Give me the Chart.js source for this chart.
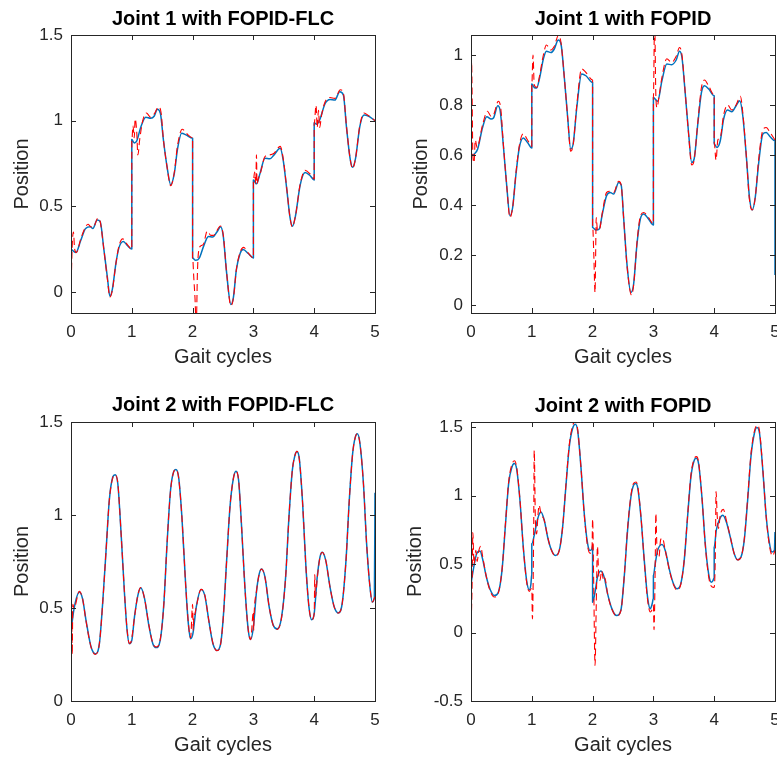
<!DOCTYPE html>
<html>
<head>
<meta charset="utf-8">
<script src="https://cdn.jsdelivr.net/npm/chart.js@4.4.1/dist/chart.umd.min.js"></script>
<style>
  html, body { margin: 0; padding: 0; background: #fff; }
  #page { position: relative; width: 777px; height: 757px; overflow: hidden; }
  canvas { position: absolute; }
</style>
</head>
<body>
<div id="page">
  <canvas id="j1flc" width="390" height="380" style="left:0;top:0"></canvas>
  <canvas id="j1pid" width="387" height="380" style="left:390px;top:0"></canvas>
  <canvas id="j2flc" width="390" height="377" style="left:0;top:380px"></canvas>
  <canvas id="j2pid" width="387" height="377" style="left:390px;top:380px"></canvas>
</div>
<script>
// ---- tick labels ----
const xTicks = [0, 1, 2, 3, 4, 5];
const j1flcTicks = [0, 0.5, 1, 1.5];
const j1pidTicks = [0, 0.2, 0.4, 0.6, 0.8, 1];
const j2flcTicks = [0, 0.5, 1, 1.5];
const j2pidTicks = [-0.5, 0, 0.5, 1, 1.5];

// ---- Joint 1 with FOPID-FLC ----
const j1flcActX = [
  0, 0.08, 0.16, 0.24, 0.32, 0.36, 0.43, 0.48, 0.54, 0.60, 0.64, 0.68, 0.74, 0.79, 0.86, 0.93, 1.0,
  1.0, 1.04, 1.08, 1.15, 1.23, 1.31, 1.37, 1.42, 1.47, 1.52, 1.58, 1.64, 1.70, 1.75, 1.82, 1.89, 2.0,
  2.0, 2.05, 2.11, 2.18, 2.26, 2.33, 2.40, 2.46, 2.505, 2.56, 2.63, 2.67, 2.72, 2.78, 2.83, 2.92, 3.0,
  3.0, 3.05, 3.11, 3.19, 3.27, 3.34, 3.44, 3.49, 3.55, 3.60, 3.64, 3.69, 3.77, 3.85, 3.93, 4.0,
  4.0, 4.04, 4.09, 4.18, 4.26, 4.34, 4.42, 4.48, 4.53, 4.59, 4.63, 4.68, 4.75, 4.82, 4.89, 5.0
];
const j1flcAct = [
  0.25, 0.23, 0.30, 0.37, 0.38, 0.37, 0.42, 0.41, 0.25, 0.08, -0.025, 0.015, 0.17, 0.26, 0.295, 0.27, 0.25,
  0.89, 0.87, 0.88, 0.965, 1.02, 1.014, 1.027, 1.066, 1.043, 0.887, 0.73, 0.625, 0.693, 0.83, 0.926, 0.917, 0.897,
  0.198, 0.185, 0.198, 0.266, 0.324, 0.32, 0.35, 0.38, 0.324, 0.11, -0.074, -0.035, 0.13, 0.223, 0.247, 0.223, 0.198,
  0.654, 0.631, 0.693, 0.78, 0.777, 0.80, 0.839, 0.77, 0.596, 0.44, 0.383, 0.44, 0.625, 0.697, 0.68, 0.654,
  0.988, 0.979, 1.004, 1.10, 1.124, 1.12, 1.169, 1.15, 0.965, 0.78, 0.728, 0.78, 0.965, 1.033, 1.027, 1.0
];
const j1flcRefX = [
  0, 0.02, 0.04, 0.06, 0.09, 0.16, 0.24, 0.28, 0.33, 0.37, 0.44, 0.48, 0.54, 0.60, 0.64, 0.68, 0.74, 0.79, 0.85, 0.93, 1.0,
  1.0, 1.02, 1.04, 1.055, 1.08, 1.10, 1.13, 1.18, 1.24, 1.31, 1.37, 1.44, 1.48, 1.52, 1.58, 1.64, 1.70, 1.75, 1.83, 1.90, 2.0,
  2.0, 2.02, 2.04, 2.06, 2.08, 2.10, 2.14, 2.18, 2.24, 2.30, 2.34, 2.46, 2.505, 2.56, 2.63, 2.67, 2.72, 2.78, 2.84, 2.92, 3.0,
  3.0, 3.02, 3.04, 3.05, 3.06, 3.08, 3.12, 3.19, 3.27, 3.34, 3.44, 3.49, 3.55, 3.60, 3.64, 3.69, 3.77, 3.85, 3.93, 4.0,
  4.0, 4.03, 4.05, 4.07, 4.09, 4.12, 4.18, 4.26, 4.34, 4.43, 4.48, 4.53, 4.59, 4.63, 4.68, 4.75, 4.82, 4.89, 5.0
];
const j1flcRef = [
  0.0, 0.27, 0.35, 0.25, 0.23, 0.31, 0.38, 0.395, 0.38, 0.38, 0.43, 0.41, 0.25, 0.07, -0.03, 0.01, 0.17, 0.27, 0.31, 0.275, 0.25,
  0.88, 0.97, 0.9, 1.01, 0.94, 0.8, 0.89, 1.0, 1.045, 1.02, 1.04, 1.08, 1.05, 0.89, 0.73, 0.62, 0.70, 0.85, 0.95, 0.925, 0.9,
  0.2, 0.08, -0.04, -0.2, 0.12, 0.24, 0.27, 0.28, 0.355, 0.33, 0.33, 0.385, 0.33, 0.11, -0.08, -0.04, 0.13, 0.23, 0.26, 0.225, 0.2,
  0.65, 0.70, 0.63, 0.8, 0.63, 0.66, 0.70, 0.79, 0.80, 0.81, 0.85, 0.78, 0.60, 0.44, 0.38, 0.44, 0.63, 0.71, 0.69, 0.66,
  0.98, 1.09, 0.96, 1.06, 0.96, 1.03, 1.11, 1.135, 1.13, 1.18, 1.16, 0.97, 0.78, 0.72, 0.78, 0.97, 1.045, 1.03, 1.0
];

// ---- Joint 1 with FOPID ----
const j1pidActX = [
  0, 0.055, 0.11, 0.19, 0.26, 0.33, 0.37, 0.44, 0.48, 0.53, 0.59, 0.64, 0.685, 0.74, 0.795, 0.86, 0.93, 1.0,
  1.0, 1.04, 1.08, 1.13, 1.19, 1.24, 1.315, 1.37, 1.435, 1.48, 1.535, 1.59, 1.64, 1.68, 1.74, 1.82, 1.89, 2.0,
  2.0, 2.055, 2.11, 2.16, 2.23, 2.29, 2.345, 2.43, 2.47, 2.51, 2.565, 2.63, 2.675, 2.73, 2.785, 2.84, 2.92, 3.0,
  3.0, 3.03, 3.07, 3.14, 3.22, 3.30, 3.375, 3.43, 3.47, 3.52, 3.58, 3.63, 3.67, 3.73, 3.79, 3.84, 3.91, 4.0,
  4.0, 4.045, 4.10, 4.155, 4.22, 4.29, 4.36, 4.42, 4.47, 4.53, 4.58, 4.625, 4.675, 4.73, 4.80, 4.855, 4.92, 5.0, 5.0
];
const j1pidAct = [
  0.60, 0.604, 0.624, 0.71, 0.753, 0.744, 0.748, 0.797, 0.777, 0.644, 0.47, 0.357, 0.39, 0.524, 0.63, 0.668, 0.65, 0.628,
  0.884, 0.87, 0.868, 0.91, 0.984, 1.015, 1.01, 1.024, 1.06, 1.044, 0.91, 0.75, 0.624, 0.644, 0.79, 0.924, 0.917, 0.89,
  0.31, 0.30, 0.304, 0.364, 0.437, 0.45, 0.444, 0.49, 0.48, 0.35, 0.164, 0.05, 0.084, 0.244, 0.344, 0.364, 0.344, 0.32,
  0.83, 0.824, 0.815, 0.897, 0.964, 0.961, 0.98, 1.015, 0.99, 0.857, 0.684, 0.57, 0.584, 0.724, 0.85, 0.877, 0.864, 0.837,
  0.644, 0.63, 0.657, 0.744, 0.78, 0.773, 0.797, 0.817, 0.757, 0.59, 0.43, 0.38, 0.43, 0.564, 0.684, 0.69, 0.673, 0.657, 0.12
];
const j1pidRefX = [
  0, 0.01, 0.02, 0.03, 0.05, 0.07, 0.10, 0.19, 0.27, 0.33, 0.37, 0.45, 0.49, 0.53, 0.59, 0.64, 0.685, 0.74, 0.80, 0.86, 0.93, 1.0,
  1.0, 1.02, 1.04, 1.08, 1.13, 1.19, 1.24, 1.315, 1.37, 1.44, 1.48, 1.535, 1.59, 1.64, 1.68, 1.74, 1.82, 1.89, 2.0,
  2.0, 2.02, 2.04, 2.06, 2.08, 2.11, 2.16, 2.23, 2.29, 2.345, 2.43, 2.47, 2.51, 2.565, 2.64, 2.675, 2.73, 2.785, 2.84, 2.92, 3.0,
  3.0, 3.02, 3.04, 3.06, 3.09, 3.14, 3.22, 3.30, 3.375, 3.43, 3.47, 3.52, 3.58, 3.63, 3.67, 3.73, 3.79, 3.84, 3.91, 4.0,
  4.0, 4.03, 4.06, 4.10, 4.155, 4.22, 4.29, 4.36, 4.43, 4.47, 4.53, 4.58, 4.625, 4.675, 4.73, 4.80, 4.855, 4.92, 5.0
];
const j1pidRef = [
  -0.03, 0.97, 0.80, 0.60, 0.57, 0.66, 0.63, 0.72, 0.775, 0.755, 0.76, 0.815, 0.785, 0.65, 0.47, 0.35, 0.39, 0.53, 0.645, 0.685, 0.66, 0.635,
  0.88, 1.0, 0.88, 0.87, 0.92, 1.0, 1.04, 1.02, 1.035, 1.08, 1.05, 0.91, 0.75, 0.615, 0.64, 0.80, 0.945, 0.93, 0.9,
  0.32, 0.2, 0.05, 0.35, 0.30, 0.30, 0.37, 0.45, 0.455, 0.45, 0.495, 0.48, 0.35, 0.16, 0.04, 0.08, 0.25, 0.355, 0.37, 0.35, 0.325,
  0.83, 1.15, 0.84, 0.79, 0.83, 0.91, 0.985, 0.97, 0.995, 1.03, 1.0, 0.86, 0.68, 0.56, 0.58, 0.73, 0.87, 0.9, 0.875, 0.84,
  0.65, 0.58, 0.66, 0.67, 0.76, 0.8, 0.78, 0.8, 0.835, 0.77, 0.59, 0.42, 0.38, 0.43, 0.58, 0.70, 0.71, 0.69, 0.66
];

// ---- Joint 2 with FOPID-FLC ----
const j2flcActX = [
  0, 0.055, 0.137, 0.19, 0.247, 0.33, 0.40, 0.467, 0.52, 0.577, 0.63, 0.687, 0.725, 0.77, 0.824, 0.88, 0.923, 0.96, 1.0,
  1.044, 1.10, 1.148, 1.21, 1.28, 1.346, 1.40, 1.467, 1.527, 1.58, 1.637, 1.687, 1.725, 1.77, 1.824, 1.885, 1.93, 1.967, 2.005,
  2.06, 2.14, 2.20, 2.27, 2.335, 2.40, 2.46, 2.505, 2.56, 2.615, 2.67, 2.713, 2.757, 2.806, 2.86, 2.916, 2.954, 3.0,
  3.053, 3.097, 3.135, 3.19, 3.26, 3.327, 3.393, 3.464, 3.53, 3.585, 3.64, 3.683, 3.716, 3.755, 3.81, 3.864, 3.914, 3.958, 4.0,
  4.05, 4.095, 4.133, 4.19, 4.26, 4.33, 4.396, 4.46, 4.523, 4.577, 4.632, 4.676, 4.71, 4.753, 4.81, 4.862, 4.917, 4.956, 4.99, 5.0
];
const j2flcAct = [
  0.38, 0.505, 0.586, 0.55, 0.434, 0.29, 0.254, 0.308, 0.523, 0.81, 1.079, 1.204, 1.217, 1.168, 0.90, 0.577, 0.38, 0.308, 0.326,
  0.452, 0.568, 0.609, 0.55, 0.407, 0.308, 0.287, 0.326, 0.523, 0.846, 1.133, 1.231, 1.244, 1.204, 0.99, 0.63, 0.416, 0.335, 0.362,
  0.505, 0.60, 0.568, 0.425, 0.308, 0.272, 0.305, 0.452, 0.756, 1.043, 1.195, 1.235, 1.186, 0.935, 0.613, 0.38, 0.33, 0.398,
  0.595, 0.685, 0.71, 0.667, 0.505, 0.407, 0.387, 0.452, 0.667, 0.99, 1.24, 1.32, 1.342, 1.303, 1.061, 0.72, 0.505, 0.437, 0.47,
  0.667, 0.774, 0.80, 0.756, 0.613, 0.505, 0.473, 0.523, 0.756, 1.079, 1.33, 1.419, 1.437, 1.383, 1.168, 0.846, 0.613, 0.532, 0.559, 1.12
];
const j2flcRefX = [
  0, 0.005, 0.01, 0.02, 0.03, 0.05, 0.137, 0.19, 0.247, 0.33, 0.40, 0.467, 0.52, 0.577, 0.63, 0.687, 0.725, 0.77, 0.824, 0.88, 0.923, 0.96, 0.99, 1.0, 1.01,
  1.044, 1.10, 1.148, 1.21, 1.28, 1.346, 1.40, 1.467, 1.527, 1.58, 1.637, 1.687, 1.725, 1.77, 1.824, 1.885, 1.93, 1.967, 2.0, 2.01, 2.02, 2.04,
  2.06, 2.14, 2.20, 2.27, 2.335, 2.40, 2.46, 2.505, 2.56, 2.615, 2.67, 2.713, 2.757, 2.806, 2.86, 2.916, 2.954, 3.0, 3.005, 3.01,
  3.053, 3.097, 3.135, 3.19, 3.26, 3.327, 3.393, 3.464, 3.53, 3.585, 3.64, 3.683, 3.716, 3.755, 3.81, 3.864, 3.914, 3.958, 4.0, 4.01, 4.02,
  4.05, 4.095, 4.133, 4.19, 4.26, 4.33, 4.396, 4.46, 4.523, 4.577, 4.632, 4.676, 4.71, 4.753, 4.81, 4.862, 4.917, 4.956, 5.0
];
const j2flcRef = [
  0.0, 0.0, 0.5, 0.25, 0.52, 0.5, 0.59, 0.55, 0.43, 0.29, 0.25, 0.31, 0.52, 0.81, 1.08, 1.2, 1.215, 1.17, 0.9, 0.58, 0.38, 0.31, 0.32, 0.34, 0.36,
  0.45, 0.57, 0.61, 0.55, 0.41, 0.31, 0.29, 0.33, 0.52, 0.85, 1.13, 1.23, 1.245, 1.2, 0.99, 0.63, 0.42, 0.34, 0.52, 0.38, 0.45, 0.47,
  0.505, 0.60, 0.57, 0.425, 0.31, 0.27, 0.305, 0.45, 0.755, 1.045, 1.195, 1.235, 1.185, 0.935, 0.61, 0.38, 0.33, 0.48, 0.38, 0.45,
  0.595, 0.685, 0.71, 0.665, 0.505, 0.405, 0.385, 0.45, 0.665, 0.99, 1.24, 1.32, 1.342, 1.3, 1.06, 0.72, 0.505, 0.437, 0.47, 0.68, 0.56,
  0.66, 0.774, 0.80, 0.756, 0.613, 0.505, 0.473, 0.523, 0.756, 1.079, 1.33, 1.419, 1.437, 1.383, 1.168, 0.846, 0.613, 0.532, 0.56
];

// ---- Joint 2 with FOPID ----
const j2pidActX = [
  0, 0.055, 0.093, 0.148, 0.19, 0.247, 0.31, 0.384, 0.45, 0.51, 0.564, 0.619, 0.674, 0.712, 0.75, 0.805, 0.86, 0.915, 0.959, 0.986, 1.0,
  1.0, 1.04, 1.096, 1.15, 1.205, 1.26, 1.315, 1.386, 1.452, 1.507, 1.56, 1.616, 1.671, 1.715, 1.753, 1.808, 1.863, 1.918, 1.956, 1.99, 2.0,
  2.0, 2.044, 2.08, 2.137, 2.19, 2.247, 2.318, 2.395, 2.466, 2.52, 2.575, 2.63, 2.674, 2.71, 2.745, 2.795, 2.85, 2.904, 2.948, 2.98, 3.0,
  3.0, 3.03, 3.07, 3.14, 3.195, 3.266, 3.33, 3.387, 3.45, 3.507, 3.562, 3.617, 3.672, 3.705, 3.743, 3.798, 3.853, 3.908, 3.95, 3.98, 4.0,
  4.0, 4.034, 4.09, 4.143, 4.2, 4.264, 4.33, 4.385, 4.44, 4.494, 4.55, 4.604, 4.66, 4.703, 4.746, 4.80, 4.856, 4.91, 4.95, 4.99, 5.0
];
const j2pidAct = [
  0.356, 0.502, 0.576, 0.595, 0.539, 0.417, 0.32, 0.27, 0.295, 0.454, 0.77, 1.088, 1.21, 1.234, 1.197, 0.966, 0.624, 0.38, 0.312, 0.356, 0.43,
  0.649, 0.71, 0.83, 0.88, 0.82, 0.698, 0.612, 0.563, 0.60, 0.77, 1.063, 1.356, 1.49, 1.522, 1.478, 1.21, 0.868, 0.649, 0.60, 0.612, 0.637,
  0.222, 0.307, 0.405, 0.449, 0.405, 0.283, 0.173, 0.124, 0.165, 0.405, 0.746, 0.99, 1.076, 1.088, 1.05, 0.844, 0.527, 0.259, 0.173, 0.21, 0.25,
  0.417, 0.502, 0.60, 0.644, 0.60, 0.454, 0.356, 0.32, 0.356, 0.527, 0.844, 1.137, 1.259, 1.273, 1.234, 0.99, 0.649, 0.43, 0.368, 0.38, 0.40,
  0.624, 0.746, 0.83, 0.856, 0.807, 0.698, 0.576, 0.532, 0.551, 0.673, 0.966, 1.283, 1.454, 1.498, 1.454, 1.185, 0.844, 0.649, 0.588, 0.60, 0.734
];
const j2pidRefX = [
  0, 0.02, 0.03, 0.05, 0.08, 0.10, 0.13, 0.16, 0.19, 0.247, 0.31, 0.384, 0.45, 0.51, 0.564, 0.619, 0.674, 0.715, 0.75, 0.805, 0.86, 0.915, 0.959, 0.99,
  1.0, 1.01, 1.03, 1.04, 1.06, 1.08, 1.10, 1.12, 1.15, 1.205, 1.26, 1.315, 1.386, 1.452, 1.507, 1.56, 1.616, 1.671, 1.72, 1.753, 1.808, 1.863, 1.918, 1.956, 1.99,
  2.0, 2.02, 2.04, 2.06, 2.08, 2.10, 2.12, 2.15, 2.18, 2.20, 2.247, 2.318, 2.395, 2.466, 2.52, 2.575, 2.63, 2.674, 2.715, 2.745, 2.795, 2.85, 2.904, 2.948, 2.98,
  3.0, 3.01, 3.03, 3.04, 3.06, 3.09, 3.12, 3.15, 3.195, 3.266, 3.33, 3.387, 3.45, 3.507, 3.562, 3.617, 3.672, 3.71, 3.743, 3.798, 3.853, 3.908, 3.95, 3.99,
  4.0, 4.02, 4.03, 4.05, 4.07, 4.10, 4.15, 4.2, 4.264, 4.33, 4.385, 4.44, 4.494, 4.55, 4.604, 4.66, 4.71, 4.746, 4.80, 4.856, 4.91, 4.96, 5.0
];
const j2pidRef = [
  0.0, 0.4, 0.73, 0.5, 0.6, 0.52, 0.6, 0.63, 0.56, 0.42, 0.31, 0.26, 0.29, 0.46, 0.78, 1.1, 1.23, 1.255, 1.21, 0.97, 0.62, 0.37, 0.30, 0.32,
  0.32, 0.1, 0.7, 1.33, 0.8, 0.72, 0.85, 0.93, 0.87, 0.82, 0.70, 0.61, 0.56, 0.60, 0.77, 1.07, 1.37, 1.51, 1.545, 1.49, 1.21, 0.86, 0.63, 0.58, 0.60,
  0.83, 0.3, -0.24, 0.2, 0.63, 0.42, 0.38, 0.45, 0.38, 0.4, 0.28, 0.17, 0.12, 0.16, 0.41, 0.76, 1.0, 1.09, 1.1, 1.06, 0.85, 0.52, 0.24, 0.15, 0.17,
  0.2, 0.02, 0.5, 0.87, 0.6, 0.55, 0.68, 0.69, 0.6, 0.45, 0.35, 0.31, 0.35, 0.53, 0.85, 1.15, 1.27, 1.285, 1.245, 0.99, 0.64, 0.41, 0.34, 0.33,
  0.33, 0.6, 1.03, 0.85, 0.76, 0.86, 0.9, 0.82, 0.70, 0.575, 0.53, 0.55, 0.68, 0.98, 1.3, 1.47, 1.515, 1.47, 1.19, 0.84, 0.63, 0.56, 0.6
];

Chart.defaults.font.family = '"Liberation Sans", Arial, Helvetica, sans-serif';
Chart.defaults.color = '#262626';

function toPoints(xs, ys) {
  return xs.map((x, i) => ({ x: x, y: ys[i] }));
}

// matlab style box with ticks pointing inward on all four sides
const boxPlugin = {
  id: 'boxPlugin',
  afterDatasetsDraw(chart) {
    const { ctx, chartArea: a } = chart;
    const sx = chart.scales.x;
    const sy = chart.scales.y;
    const len = 5;
    ctx.save();
    ctx.strokeStyle = '#262626';
    ctx.lineWidth = 1;
    ctx.beginPath();
    sx.ticks.forEach(t => {
      const p = Math.round(sx.getPixelForValue(t.value)) + 0.5;
      ctx.moveTo(p, a.bottom); ctx.lineTo(p, a.bottom - len);
      ctx.moveTo(p, a.top); ctx.lineTo(p, a.top + len);
    });
    sy.ticks.forEach(t => {
      const p = Math.round(sy.getPixelForValue(t.value)) + 0.5;
      ctx.moveTo(a.left, p); ctx.lineTo(a.left + len, p);
      ctx.moveTo(a.right, p); ctx.lineTo(a.right - len, p);
    });
    ctx.stroke();
    ctx.strokeRect(Math.round(a.left) + 0.5, Math.round(a.top) + 0.5,
      Math.round(a.right - a.left), Math.round(a.bottom - a.top));
    ctx.restore();
  }
};

function makePanel(id, p) {
  const canvas = document.getElementById(id);
  const W = canvas.width;
  const H = canvas.height;

  new Chart(canvas, {
    type: 'line',
    data: {
      datasets: [
        {
          data: toPoints(p.refX, p.ref),
          borderColor: '#ff0000',
          borderWidth: 1.1,
          borderDash: [7, 4],
          borderJoinStyle: 'round',
          pointRadius: 0,
          cubicInterpolationMode: 'monotone',
          fill: false
        },
        {
          data: toPoints(p.actX, p.act),
          borderColor: '#0072bd',
          borderWidth: 1.5,
          borderJoinStyle: 'round',
          pointRadius: 0,
          cubicInterpolationMode: 'monotone',
          fill: false
        }
      ]
    },
    options: {
      responsive: false,
      animation: false,
      devicePixelRatio: 1,
      layout: { padding: { left: 0, right: W - p.box.right, top: 0, bottom: 0 } },
      plugins: {
        legend: { display: false },
        tooltip: { enabled: false },
        title: {
          display: true,
          text: p.title,
          fullSize: false,
          color: '#000',
          font: { size: 20, weight: 'bold' },
          padding: { top: p.titleY - 12, bottom: p.box.top - p.titleY - 12 }
        }
      },
      scales: {
        x: {
          type: 'linear',
          min: 0,
          max: 5,
          grid: { display: false, drawTicks: false },
          border: { display: false },
          afterBuildTicks: s => { s.ticks = xTicks.map(v => ({ value: v })); },
          afterFit: s => { s.height = H - p.box.bottom; s.paddingLeft = 0; s.paddingRight = 0; },
          ticks: { font: { size: 17 }, color: '#262626', padding: 9, maxRotation: 0, autoSkip: false, callback: v => String(v) },
          title: { display: true, text: 'Gait cycles', font: { size: 20 }, color: '#262626', padding: { top: 0, bottom: H - p.xLabelY - 12 } }
        },
        y: {
          min: p.yMin,
          max: p.yMax,
          grid: { display: false, drawTicks: false },
          border: { display: false },
          afterBuildTicks: s => { s.ticks = p.yTicks.map(v => ({ value: v })); },
          afterFit: s => { s.width = p.box.left; s.paddingTop = 0; s.paddingBottom = 0; },
          ticks: { font: { size: 17 }, color: '#262626', padding: 8, autoSkip: false, callback: v => String(v) },
          title: { display: true, text: 'Position', font: { size: 20 }, color: '#262626', padding: { top: p.yLabelX - 12, bottom: 0 } }
        }
      }
    },
    plugins: [boxPlugin]
  });
}

makePanel('j1flc', {
  title: 'Joint 1 with FOPID-FLC',
  actX: j1flcActX, act: j1flcAct, refX: j1flcRefX, ref: j1flcRef,
  yTicks: j1flcTicks, yMin: -0.123, yMax: 1.5,
  box: { left: 71, right: 375, top: 35, bottom: 313 },
  titleY: 19, yLabelX: 22, xLabelY: 357
});

makePanel('j1pid', {
  title: 'Joint 1 with FOPID',
  actX: j1pidActX, act: j1pidAct, refX: j1pidRefX, ref: j1pidRef,
  yTicks: j1pidTicks, yMin: -0.032, yMax: 1.08,
  box: { left: 81, right: 385, top: 35, bottom: 313 },
  titleY: 19, yLabelX: 31, xLabelY: 357
});

makePanel('j2flc', {
  title: 'Joint 2 with FOPID-FLC',
  actX: j2flcActX, act: j2flcAct, refX: j2flcRefX, ref: j2flcRef,
  yTicks: j2flcTicks, yMin: 0, yMax: 1.5,
  box: { left: 71, right: 375, top: 42, bottom: 321 },
  titleY: 25, yLabelX: 22, xLabelY: 365
});

makePanel('j2pid', {
  title: 'Joint 2 with FOPID',
  actX: j2pidActX, act: j2pidAct, refX: j2pidRefX, ref: j2pidRef,
  yTicks: j2pidTicks, yMin: -0.5, yMax: 1.538,
  box: { left: 81, right: 385, top: 42, bottom: 321 },
  titleY: 26, yLabelX: 25, xLabelY: 365
});
</script>
</body>
</html>
